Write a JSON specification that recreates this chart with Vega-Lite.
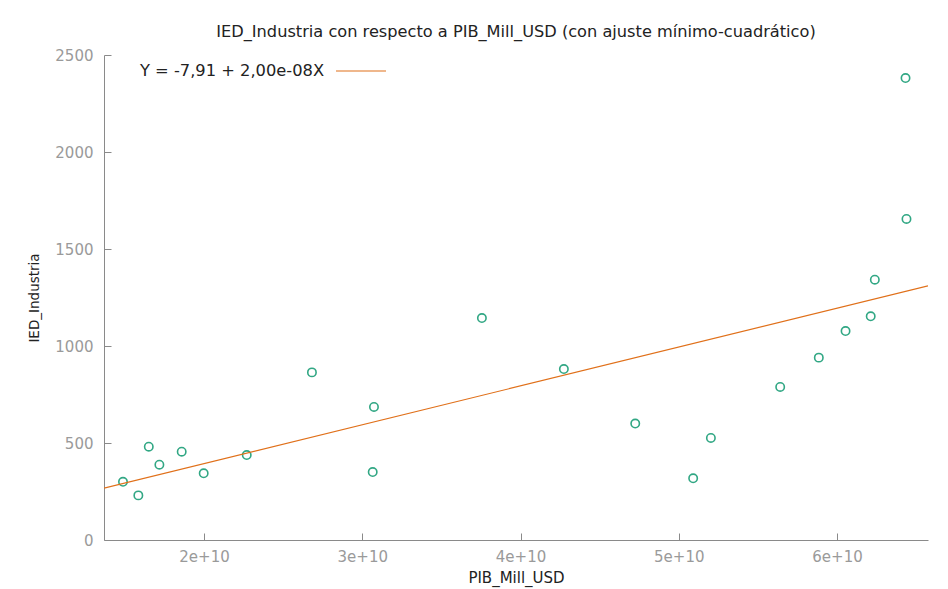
{
  "$schema": "https://vega.github.io/schema/vega-lite/v6.json",
  "autosize": {"type": "none"},
  "width": 824,
  "height": 485,
  "padding": {"left": 104, "top": 55, "right": 20, "bottom": 49},
  "background": "white",
  "config": {
    "view": {"stroke": null},
    "font": "DejaVu Sans",
    "axis": {
      "grid": false,
      "domainColor": "#8a8a8a",
      "tickColor": "#8a8a8a",
      "labelColor": "#9a9a9a",
      "labelFont": "DejaVu Sans",
      "labelFontSize": 15,
      "titleFont": "DejaVu Sans",
      "titleFontWeight": "normal",
      "titleColor": "#222222"
    }
  },
  "title": {
    "text": "IED_Industria con respecto a PIB_Mill_USD (con ajuste mínimo-cuadrático)",
    "font": "DejaVu Sans",
    "fontSize": 16.2,
    "fontWeight": "normal",
    "color": "#222222",
    "anchor": "middle",
    "offset": 5
  },
  "data": {
    "values": [
      {"PIB_Mill_USD": 1.488e10, "IED_Industria": 300},
      {"PIB_Mill_USD": 1.585e10, "IED_Industria": 230},
      {"PIB_Mill_USD": 1.651e10, "IED_Industria": 481},
      {"PIB_Mill_USD": 1.718e10, "IED_Industria": 388},
      {"PIB_Mill_USD": 1.859e10, "IED_Industria": 455},
      {"PIB_Mill_USD": 1.998e10, "IED_Industria": 344},
      {"PIB_Mill_USD": 2.270e10, "IED_Industria": 438},
      {"PIB_Mill_USD": 2.682e10, "IED_Industria": 864},
      {"PIB_Mill_USD": 3.074e10, "IED_Industria": 686},
      {"PIB_Mill_USD": 3.066e10, "IED_Industria": 350},
      {"PIB_Mill_USD": 3.756e10, "IED_Industria": 1144},
      {"PIB_Mill_USD": 4.274e10, "IED_Industria": 881},
      {"PIB_Mill_USD": 4.725e10, "IED_Industria": 600},
      {"PIB_Mill_USD": 5.091e10, "IED_Industria": 318},
      {"PIB_Mill_USD": 5.203e10, "IED_Industria": 526},
      {"PIB_Mill_USD": 5.641e10, "IED_Industria": 789},
      {"PIB_Mill_USD": 5.885e10, "IED_Industria": 940},
      {"PIB_Mill_USD": 6.054e10, "IED_Industria": 1077},
      {"PIB_Mill_USD": 6.213e10, "IED_Industria": 1153},
      {"PIB_Mill_USD": 6.239e10, "IED_Industria": 1342},
      {"PIB_Mill_USD": 6.439e10, "IED_Industria": 1655},
      {"PIB_Mill_USD": 6.433e10, "IED_Industria": 2381}
    ]
  },
  "layer": [
    {
      "mark": {"type": "point", "shape": "circle", "filled": false, "size": 70, "strokeWidth": 1.6, "color": "#1b9e77", "opacity": 0.9},
      "encoding": {
        "x": {
          "field": "PIB_Mill_USD", "type": "quantitative",
          "scale": {"domain": [1.368e10, 6.575e10], "nice": false, "zero": false},
          "axis": {"values": [2e10, 3e10, 4e10, 5e10, 6e10], "format": ".0e", "title": "PIB_Mill_USD", "titleFontSize": 15, "titlePadding": 6, "tickSize": -7, "labelPadding": 16}
        },
        "y": {
          "field": "IED_Industria", "type": "quantitative",
          "scale": {"domain": [0, 2500], "nice": false},
          "axis": {"values": [0, 500, 1000, 1500, 2000, 2500], "format": "d", "title": "IED_Industria", "titleFontSize": 13.5, "titlePadding": 13, "tickSize": -7, "labelPadding": 18}
        }
      }
    },
    {
      "transform": [
        {"regression": "IED_Industria", "on": "PIB_Mill_USD", "method": "linear", "extent": [1.368e10, 6.575e10]}
      ],
      "mark": {"type": "line", "strokeWidth": 1.2, "clip": true},
      "encoding": {
        "x": {"field": "PIB_Mill_USD", "type": "quantitative"},
        "y": {"field": "IED_Industria", "type": "quantitative"},
        "color": {
          "datum": "Y = -7,91 + 2,00e-08X",
          "type": "nominal",
          "scale": {"range": ["#e0701a"]},
          "legend": {
            "title": null,
            "orient": "none",
            "legendX": 34,
            "legendY": -10,
            "symbolType": "stroke",
            "symbolSize": 2500,
            "symbolStrokeWidth": 1.2,
            "symbolOffset": 197,
            "labelOffset": -247,
            "labelFont": "DejaVu Sans",
            "labelFontSize": 16.3,
            "labelColor": "#222222",
            "labelLimit": 400
          }
        }
      }
    }
  ]
}
